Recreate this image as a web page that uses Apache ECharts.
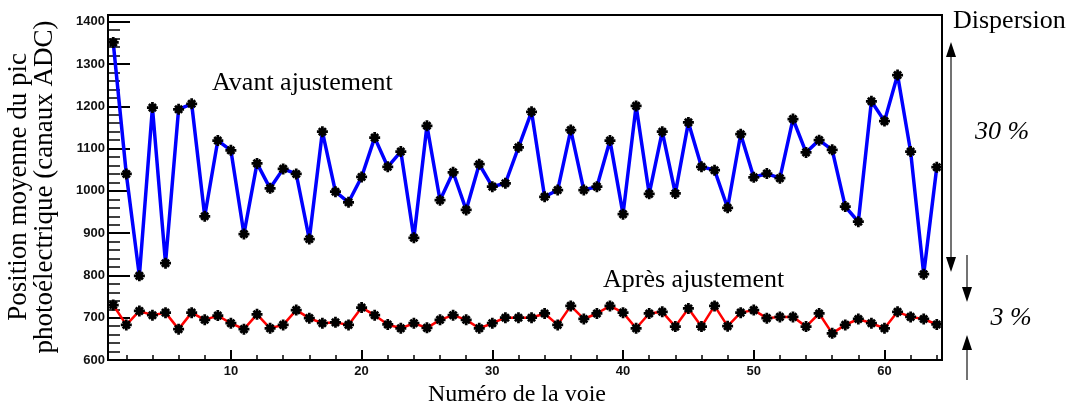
<!DOCTYPE html>
<html><head><meta charset="utf-8">
<script src="https://cdn.jsdelivr.net/npm/echarts/dist/echarts.min.js"></script>
<style>html,body{margin:0;padding:0;background:#fff}#c{width:1073px;height:408px}</style>
</head><body><div id="c"></div>
<script>
const channels = [1,2,3,4,5,6,7,8,9,10,11,12,13,14,15,16,17,18,19,20,21,22,23,24,25,26,27,28,29,30,31,32,33,34,35,36,37,38,39,40,41,42,43,44,45,46,47,48,49,50,51,52,53,54,55,56,57,58,59,60,61,62,63,64];
const avantAjustement = [1351,1040,799,1197,829,1193,1206,940,1119,1096,898,1065,1006,1052,1040,886,1140,998,973,1033,1126,1057,1093,889,1154,978,1044,955,1063,1010,1018,1103,1187,986,1002,1144,1002,1010,1119,945,1201,993,1140,994,1162,1057,1049,960,1134,1032,1041,1030,1170,1091,1120,1097,963,927,1212,1165,1274,1093,803,1056];
const apresAjustement = [730,683,716,706,712,673,712,695,705,687,673,708,675,683,718,699,687,689,683,724,706,684,675,687,676,695,706,695,675,687,700,700,700,710,683,728,697,710,728,712,675,710,714,679,722,679,728,680,712,718,699,702,702,679,710,663,683,697,687,675,714,702,697,684];
const seriesNames = ['Avant ajustement', 'Après ajustement'];
const dispersionLabels = ['30 %', '3 %'];

const SERIF = "'Liberation Serif','Times New Roman',serif";
const SANS = "'Liberation Sans Narrow','Liberation Sans',Arial,sans-serif";
const STAR = 'path://M4.5 0L7.5 0L7.5 12L4.5 12Z M0 4.5L12 4.5L12 7.5L0 7.5Z M3.17 1.05L10.95 8.83L8.83 10.95L1.05 3.17Z M1.05 8.83L8.83 1.05L10.95 3.17L3.17 10.95Z';

const chart = echarts.init(document.getElementById('c'), null, {renderer:'canvas'});
const pairs = vals => channels.map((c, i) => [c, vals[i]]);

const option = {
  animation: false,
  backgroundColor: '#fff',
  grid: {left:108, right:131, top:15, bottom:48, show:true, borderColor:'#000', borderWidth:2, backgroundColor:'transparent'},
  xAxis: [
    {type:'value', min:0.6, max:64.4, minInterval:10, maxInterval:10, splitLine:{show:false},
     axisLine:{show:true, onZero:false, lineStyle:{color:'#000', width:2}},
     axisTick:{show:true, inside:true, length:10, lineStyle:{color:'#000', width:2}},
     axisLabel:{margin:5, color:'#111', fontWeight:'bold', fontSize:13, fontFamily:SANS,
       formatter: v => (Math.abs(v % 10) < 1e-6 ? String(v) : '')}},
    {type:'value', min:0.6, max:64.4, minInterval:2, maxInterval:2, position:'bottom', splitLine:{show:false},
     axisLine:{show:false, onZero:false},
     axisTick:{show:true, inside:true, length:5, lineStyle:{color:'#000', width:1.5}},
     axisLabel:{show:false}}
  ],
  yAxis: [
    {type:'value', min:600, max:1416, interval:100, position:'left', splitLine:{show:false},
     axisLine:{show:true, onZero:false, lineStyle:{color:'#000', width:2}},
     axisTick:{show:true, inside:true, length:22, lineStyle:{color:'#000', width:2}},
     axisLabel:{margin:3, color:'#111', fontWeight:'bold', fontSize:13, fontFamily:SANS, showMaxLabel:false,
       formatter: v => (Math.abs(v % 100) < 1e-6 ? String(v) : '')}},
    {type:'value', min:600, max:1416, interval:20, position:'left', splitLine:{show:false},
     axisLine:{show:false, onZero:false},
     axisTick:{show:true, inside:true, length:12, lineStyle:{color:'#000', width:1.5}},
     axisLabel:{show:false}}
  ],
  series: [
    {type:'line', name:seriesNames[0], data:pairs(avantAjustement), xAxisIndex:0, yAxisIndex:0,
     symbol:STAR, symbolSize:11, itemStyle:{color:'#000'}, lineStyle:{color:'#0000ff', width:3.5}, z:3},
    {type:'line', name:seriesNames[1], data:pairs(apresAjustement), xAxisIndex:0, yAxisIndex:0,
     symbol:STAR, symbolSize:11, itemStyle:{color:'#000'}, lineStyle:{color:'#ff0000', width:2.5}, z:3}
  ],
  graphic: [
    {type:'text', x:32, y:187, rotation:Math.PI/2,
     style:{text:'Position moyenne du pic\nphotoélectrique (canaux ADC)', textAlign:'center', verticalAlign:'middle', textVerticalAlign:'middle',
       fontSize:27, lineHeight:26, fontFamily:SERIF, fill:'#000'}},
    {type:'text', style:{text:'Numéro de la voie', x:517, y:395, textAlign:'center', verticalAlign:'middle', textVerticalAlign:'middle', fontSize:24, fontFamily:SERIF, fill:'#000'}},
    {type:'text', style:{text:seriesNames[0], x:212, y:83, textAlign:'left', verticalAlign:'middle', textVerticalAlign:'middle', fontSize:26, fontFamily:SERIF, fill:'#000'}},
    {type:'text', style:{text:seriesNames[1], x:603, y:280, textAlign:'left', verticalAlign:'middle', textVerticalAlign:'middle', fontSize:26, fontFamily:SERIF, fill:'#000'}},
    {type:'text', style:{text:'Dispersion', x:953, y:21, textAlign:'left', verticalAlign:'middle', textVerticalAlign:'middle', fontSize:26, fontFamily:SERIF, fill:'#000'}},
    {type:'text', style:{text:dispersionLabels[0], x:1002, y:132, textAlign:'center', verticalAlign:'middle', textVerticalAlign:'middle', fontSize:26, fontStyle:'italic', fontFamily:SERIF, fill:'#000'}},
    {type:'text', style:{text:dispersionLabels[1], x:1011, y:318, textAlign:'center', verticalAlign:'middle', textVerticalAlign:'middle', fontSize:26, fontStyle:'italic', fontFamily:SERIF, fill:'#000'}},
    {type:'line', shape:{x1:951, y1:55, x2:951, y2:259}, style:{stroke:'#444', lineWidth:1.5}},
    {type:'polygon', shape:{points:[[951,42],[946,57],[956,57]]}, style:{fill:'#000'}},
    {type:'polygon', shape:{points:[[951,272],[946,257],[956,257]]}, style:{fill:'#000'}},
    {type:'line', shape:{x1:967, y1:255, x2:967, y2:289}, style:{stroke:'#444', lineWidth:1.5}},
    {type:'polygon', shape:{points:[[967,302],[962,287],[972,287]]}, style:{fill:'#000'}},
    {type:'line', shape:{x1:967, y1:348, x2:967, y2:380}, style:{stroke:'#444', lineWidth:1.5}},
    {type:'polygon', shape:{points:[[967,335],[962,350],[972,350]]}, style:{fill:'#000'}}
  ]
};
chart.setOption(option);
</script>
</body></html>
